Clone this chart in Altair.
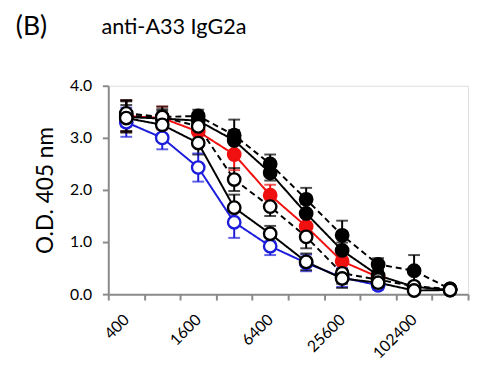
import altair as alt
import pandas as pd

dilutions = ["400", "800", "1600", "3200", "6400", "12800", "25600", "51200", "102400", "204800"]
shown_labels = ["400", "1600", "6400", "25600", "102400"]

series_names = ["blue_open", "red_filled", "black_filled", "black_filled_dash", "black_open_dash", "black_open"]

blue_open = [3.30, 3.00, 2.43, 1.38, 0.92, 0.60, 0.32, 0.17]
blue_open_err = [0.28, 0.22, 0.27, 0.30, 0.17, 0.16, 0.18, 0.08]

red_filled = [3.42, 3.38, 3.12, 2.68, 1.90, 1.30, 0.63, 0.33]
red_filled_err = [0.30, 0.22, 0.18, 0.30, 0.20, 0.18, 0.20, 0.10]

black_filled = [3.40, 3.37, 3.33, 2.95, 2.33, 1.55, 0.84, 0.36, 0.14, 0.08]
black_filled_err = [0.30, 0.15, 0.15, 0.20, 0.15, 0.18, 0.15, 0.10, 0.06, 0.03]

black_filled_dash = [3.42, 3.40, 3.42, 3.05, 2.50, 1.82, 1.13, 0.57, 0.45, 0.10]
black_filled_dash_err = [0.30, 0.15, 0.12, 0.30, 0.18, 0.22, 0.28, 0.12, 0.30, 0.04]

black_open_dash = [3.47, 3.40, 3.22, 2.20, 1.68, 1.10, 0.40, 0.28, 0.15, 0.10]
black_open_dash_err = [0.25, 0.20, 0.15, 0.22, 0.18, 0.22, 0.20, 0.10, 0.06, 0.03]

black_open = [3.38, 3.25, 2.90, 1.66, 1.16, 0.62, 0.30, 0.22, 0.07, 0.08]
black_open_err = [0.25, 0.18, 0.22, 0.25, 0.15, 0.16, 0.18, 0.08, 0.04, 0.03]

title_left = "(B)"
title_main = "anti-A33 IgG2a"
y_title = "O.D. 405 nm"

values = [blue_open, red_filled, black_filled, black_filled_dash, black_open_dash, black_open]
errors = [blue_open_err, red_filled_err, black_filled_err, black_filled_dash_err, black_open_dash_err, black_open_err]

rows = []
for name, vals, errs in zip(series_names, values, errors):
    for i, (v, e) in enumerate(zip(vals, errs)):
        rows.append({"series": name, "dilution": dilutions[i], "od": v,
                     "lo": max(v - e, 0), "hi": v + e})
df = pd.DataFrame(rows)

BLUE = "#1c1cdc"
RED = "#f01010"
BLACK = "#000000"
stroke_scale = alt.Scale(domain=series_names, range=[BLUE, RED, BLACK, BLACK, BLACK, BLACK])
fill_scale = alt.Scale(domain=series_names, range=["#ffffff", RED, BLACK, BLACK, "#ffffff", "#ffffff"])
dash_scale = alt.Scale(domain=series_names, range=[[1, 0], [1, 0], [1, 0], [6, 4], [6, 4], [1, 0]])

AXC = "#8a8a8a"
x_enc = alt.X("dilution:N", sort=dilutions,
              scale=alt.Scale(type="band", domain=dilutions, paddingInner=0, paddingOuter=0),
              axis=alt.Axis(title=None, tickBand="extent", labelAngle=-45, labelAlign="right",
                            labelBaseline="middle", labelPadding=17, labelFontSize=16,
                            labelFont="Lato", labelColor="#000000",
                            labelExpr="indexof(" + str(shown_labels) + ", datum.label) >= 0 ? datum.label : ''",
                            domainColor=AXC, domainWidth=2, tickColor=AXC, tickWidth=2, tickSize=6,
                            grid=False))
y_enc = alt.Y("od:Q", scale=alt.Scale(domain=[0, 4], nice=False),
              axis=alt.Axis(title=y_title, values=[0, 1, 2, 3, 4], format=".1f",
                            labelFontSize=16, labelFont="Lato", labelColor="#000000", labelPadding=11,
                            titleFontSize=23, titleFont="Lato", titleFontWeight="normal",
                            titleColor="#000000", titlePadding=12,
                            domainColor=AXC, domainWidth=2, tickColor=AXC, tickWidth=2, tickSize=6,
                            grid=False))

base = alt.Chart(df)
col = alt.Color("series:N", scale=stroke_scale, legend=None)

err_rule = base.mark_rule(strokeWidth=2).encode(x=x_enc, y="lo:Q", y2="hi:Q", color=col)
cap_lo = base.mark_tick(size=12, thickness=2).encode(x=x_enc, y="lo:Q", color=col)
cap_hi = base.mark_tick(size=12, thickness=2).encode(x=x_enc, y="hi:Q", color=col)
lines = base.mark_line(strokeWidth=2).encode(
    x=x_enc, y=y_enc, color=col, detail="series:N",
    strokeDash=alt.StrokeDash("series:N", scale=dash_scale, legend=None))
points = base.mark_point(shape="circle", size=160, strokeWidth=2.4, opacity=1, fillOpacity=1).encode(
    x=x_enc, y=y_enc,
    stroke=alt.Stroke("series:N", scale=stroke_scale, legend=None),
    fill=alt.Fill("series:N", scale=fill_scale, legend=None))

titles = pd.DataFrame({"t": [title_left, title_main]})
t1 = alt.Chart(titles.iloc[[0]]).mark_text(align="left", baseline="middle", font="Lato", fontSize=27,
                                           color="#000000").encode(
    text="t:N", x=alt.value(-94), y=alt.value(-60))
t2 = alt.Chart(titles.iloc[[1]]).mark_text(align="left", baseline="middle", font="Lato", fontSize=22,
                                           color="#000000").encode(
    text="t:N", x=alt.value(-7), y=alt.value(-60))

chart = alt.layer(err_rule, cap_lo, cap_hi, lines, points, t1, t2).properties(
    width=366, height=212,
    padding={"left": 102, "top": 76, "right": 4, "bottom": 70},
    autosize=alt.AutoSizeParams(type="none"),
).configure_view(stroke=None).configure(background="#ffffff")

chart.save("out.html", embed_options={"renderer": "svg", "actions": False})
